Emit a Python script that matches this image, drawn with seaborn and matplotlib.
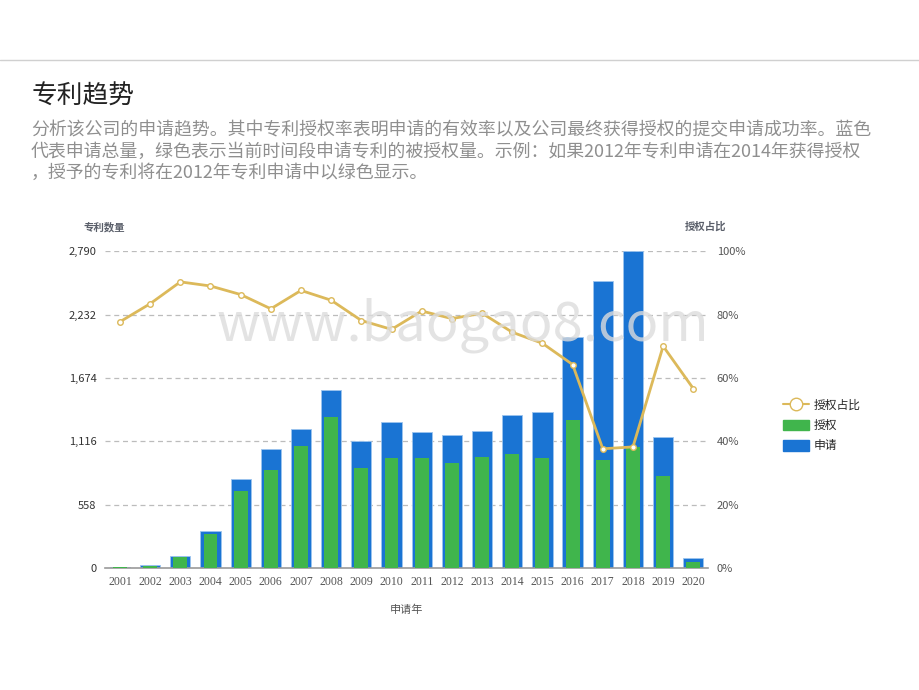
import matplotlib
matplotlib.use("Agg")
import matplotlib.pyplot as plt
from matplotlib.lines import Line2D
from matplotlib.patches import Patch
import numpy as np
import pandas as pd
import seaborn as sns

years = [str(y) for y in range(2001, 2021)]
applied = [8, 24, 103, 326, 779, 1046, 1222, 1566, 1119, 1281,
           1193, 1169, 1210, 1348, 1369, 2032, 2523, 2790, 1154, 88]
granted = [6, 20, 92, 294, 676, 861, 1072, 1325, 878, 966,
           966, 920, 973, 1002, 966, 1307, 949, 1066, 808, 50]
grant_ratio = [77.7, 83.4, 90.3, 89.0, 86.3, 81.8, 87.6, 84.5, 78.1, 75.3,
               81.1, 78.7, 80.4, 74.4, 70.9, 64.2, 37.6, 38.2, 70.0, 56.6]
left_ticks = [0, 558, 1116, 1674, 2232, 2790]
right_ticks = [0, 20, 40, 60, 80, 100]

BLUE = "#1a74d3"
GREEN = "#40b54c"
GOLD = "#dcb95a"


def main():
    sns.set_style("white")
    plt.rcParams["font.family"] = ["Noto Sans CJK SC", "DejaVu Sans"]

    df = pd.DataFrame({"year": years, "applied": applied,
                       "granted": granted, "ratio": grant_ratio})

    fig = plt.figure(figsize=(9.2, 6.9), dpi=100)
    ax = fig.add_axes([0.114, 0.177, 0.656, 0.459])

    # header
    fig.add_artist(Line2D([0, 1], [1 - 60 / 690] * 2, color="#d0d0d0", lw=1))
    fig.text(32 / 920, 1 - 97 / 690, "专利趋势", fontsize=18.5, color="#222222", va="center")
    desc = ["分析该公司的申请趋势。其中专利授权率表明申请的有效率以及公司最终获得授权的提交申请成功率。蓝色",
            "代表申请总量，绿色表示当前时间段申请专利的被授权量。示例：如果2012年专利申请在2014年获得授权",
            "，授予的专利将在2012年专利申请中以绿色显示。"]
    for i, line in enumerate(desc):
        fig.text(31 / 920, 1 - (130 + i * 21.5) / 690, line, fontsize=12.9,
                 color="#8f8f8f", va="center")

    fig.text(0.503, 0.528, "www.baogao8.com", fontsize=39, color="#dcdcdc",
             ha="center", va="center", zorder=0, alpha=0.8)

    sns.barplot(data=df, x="year", y="applied", color=BLUE, width=0.67,
                saturation=1, edgecolor="#9cc4ee", linewidth=0.6, ax=ax, zorder=2)
    sns.barplot(data=df, x="year", y="granted", color=GREEN, width=0.46,
                saturation=1, linewidth=0, ax=ax, zorder=3)

    ax.set_ylim(0, 2790)
    ax.set_xlim(-0.5, len(years) - 0.5)
    ax.set_yticks(left_ticks)
    ax.set_yticklabels([f"{v:,}" for v in left_ticks], fontsize=8, color="#333333")
    ax.set_xticks(range(len(years)))
    ax.set_xticklabels(years, fontsize=8.5, color="#555555",
                       family=["Liberation Serif", "DejaVu Serif"])
    ax.tick_params(axis="both", length=0, pad=6)
    ax.set_xlabel("申请年", fontsize=8, color="#555555", labelpad=12)
    ax.set_ylabel("")
    for y in left_ticks[1:]:
        ax.axhline(y, color="#bcbcbc", lw=0.9, ls=(0, (4, 3)), zorder=1)
    for s in ["left", "right", "top"]:
        ax.spines[s].set_visible(False)
    ax.spines["bottom"].set_color("#9a9a9a")
    ax.spines["bottom"].set_linewidth(1.2)
    ax.patch.set_alpha(0)

    ax2 = ax.twinx()
    sns.lineplot(x=np.arange(len(years)), y=df["ratio"], ax=ax2, color=GOLD,
                 lw=2, marker="o", markersize=4, markerfacecolor="white",
                 markeredgecolor=GOLD, markeredgewidth=1, zorder=5)
    ax2.set_ylim(0, 100)
    ax2.set_yticks(right_ticks)
    ax2.set_yticklabels([f"{v}%" for v in right_ticks], fontsize=8, color="#555555")
    ax2.tick_params(axis="y", length=0, pad=6)
    ax2.set_ylabel("")
    for s in ax2.spines.values():
        s.set_visible(False)

    fig.text(83 / 920, 1 - 227 / 690, "专利数量", fontsize=7.5, color="#5a5f6a",
             fontweight="bold", va="center")
    fig.text(685 / 920, 1 - 227 / 690, "授权占比", fontsize=7.5, color="#5a5f6a",
             fontweight="bold", va="center")

    handles = [Line2D([0], [0], color=GOLD, lw=1.5, marker="o", markersize=9,
                      markerfacecolor="white", markeredgecolor=GOLD),
               Patch(facecolor=GREEN, edgecolor=GREEN),
               Patch(facecolor=BLUE, edgecolor=BLUE)]
    fig.legend(handles, ["授权占比", "授权", "申请"], loc="upper left",
               bbox_to_anchor=(772 / 920, 1 - 388 / 690), frameon=False,
               fontsize=8.5, handlelength=2.2, handleheight=1.0, labelspacing=0.62,
               handletextpad=0.4)

    fig.savefig("out.png", dpi=100)


if __name__ == "__main__":
    main()
